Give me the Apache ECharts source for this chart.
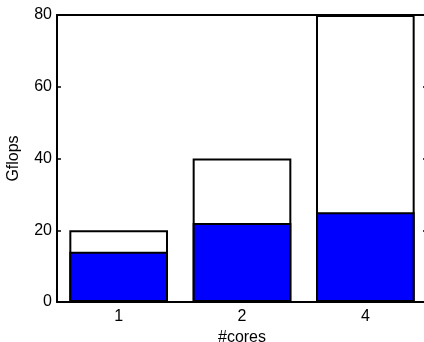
<!DOCTYPE html>
<html>
<head>
<meta charset="utf-8">
<script src="https://cdn.jsdelivr.net/npm/echarts@6/dist/echarts.min.js"></script>
<style>
  html, body { margin: 0; padding: 0; background: #fff; }
  #chart { width: 424px; height: 342px; }
</style>
</head>
<body>
<div id="chart"></div>
<script>
var cores = ['1', '2', '4'];
var peakGflops = [20, 40, 80];
var achievedGflops = [14, 22, 25];
var yTicks = [0, 20, 40, 60, 80];

var chart = echarts.init(document.getElementById('chart'));
var font = 'Liberation Sans, Arial, Helvetica, sans-serif';
var axisLine = { show: true, onZero: false, lineStyle: { color: '#000', width: 2 } };
var tickStyle = { color: '#000', width: 1.5 };

var option = {
    animation: false,
    backgroundColor: '#fff',
    textStyle: { fontFamily: font },
    grid: { left: 57, top: 15, width: 370, height: 287, containLabel: false, outerBoundsMode: 'none' },
    xAxis: [{
        type: 'category',
        data: cores,
        position: 'bottom',
        name: '#cores',
        nameLocation: 'middle',
        nameGap: 21,
        nameTextStyle: { color: '#000', fontSize: 16, fontFamily: font },
        axisLine: axisLine,
        axisTick: { inside: true, alignWithLabel: true, length: 4, lineStyle: tickStyle },
        axisLabel: { color: '#000', fontSize: 16, margin: 7, fontFamily: font }
    }, {
        type: 'category',
        data: cores,
        position: 'top',
        axisLine: axisLine,
        axisTick: { inside: true, alignWithLabel: true, length: 4, lineStyle: tickStyle },
        axisLabel: { show: false }
    }],
    yAxis: [{
        type: 'value',
        min: yTicks[0],
        max: yTicks[yTicks.length - 1],
        interval: 20,
        position: 'left',
        name: 'Gflops',
        nameLocation: 'middle',
        nameGap: 35,
        nameTextStyle: { color: '#000', fontSize: 16, fontFamily: font },
        axisLine: axisLine,
        axisTick: { show: true, inside: true, length: 4, lineStyle: tickStyle },
        axisLabel: { color: '#000', fontSize: 16, margin: 5, fontFamily: font },
        splitLine: { show: false }
    }, {
        type: 'value',
        min: yTicks[0],
        max: yTicks[yTicks.length - 1],
        interval: 20,
        position: 'right',
        axisLine: axisLine,
        axisTick: { show: true, inside: true, length: 4, lineStyle: tickStyle },
        axisLabel: { show: false },
        splitLine: { show: false }
    }],
    series: [{
        name: 'peak',
        type: 'bar',
        data: peakGflops,
        barWidth: '80%',
        barGap: '-100%',
        itemStyle: { color: '#fff', borderColor: '#000', borderWidth: 2 }
    }, {
        name: 'achieved',
        type: 'bar',
        data: achievedGflops,
        barWidth: '80%',
        barGap: '-100%',
        itemStyle: { color: '#0000ff', borderColor: '#000', borderWidth: 2 }
    }]
};
chart.setOption(option);
</script>
</body>
</html>
